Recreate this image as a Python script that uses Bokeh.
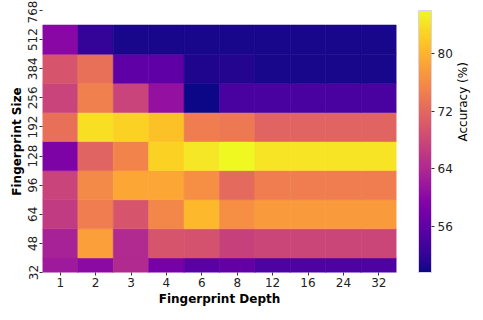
from math import pi
from bokeh.plotting import figure
from bokeh.models import (LinearColorMapper, ColorBar, FixedTicker, Range1d,
                          FactorRange, ColumnDataSource, LinearAxis)
from bokeh.palettes import Plasma256
from bokeh.transform import transform
from bokeh.embed import file_html
from bokeh.resources import INLINE

depths = ["1", "2", "3", "4", "6", "8", "12", "16", "24", "32"]
size_labels = ["32", "48", "64", "96", "128", "192", "256", "384", "512", "768"]

# accuracy (%) per fingerprint size row, columns follow `depths`
acc_32 = [62.0, 60.2, 64.2, 58.0, 55.4, 56.2, 54.3, 54.3, 54.3, 54.3]
acc_48 = [63.0, 78.0, 64.2, 69.6, 69.3, 67.2, 67.8, 67.8, 67.8, 67.8]
acc_64 = [66.3, 74.4, 69.6, 75.4, 80.5, 76.2, 77.6, 77.6, 77.6, 77.6]
acc_96 = [67.4, 75.8, 78.7, 78.7, 76.2, 72.2, 74.4, 74.4, 74.4, 74.4]
acc_128 = [58.7, 71.4, 75.1, 82.7, 84.5, 86.0, 84.2, 84.2, 84.2, 84.2]
acc_192 = [72.9, 83.8, 82.7, 81.3, 74.4, 74.0, 71.4, 71.4, 71.4, 71.4]
acc_256 = [67.4, 74.7, 67.4, 60.9, 49.6, 54.0, 54.0, 54.0, 54.0, 54.0]
acc_384 = [69.6, 72.9, 55.8, 55.8, 50.7, 51.0, 50.3, 50.3, 50.3, 50.3]
acc_512 = [59.8, 52.2, 50.3, 50.3, 50.3, 50.3, 50.3, 50.3, 50.3, 50.3]
rows = [acc_32, acc_48, acc_64, acc_96, acc_128, acc_192, acc_256, acc_384, acc_512]

cbar_low, cbar_high = 49.6, 86.0
cbar_ticks = [56, 64, 72, 80]

xs, ys, vs = [], [], []
for ri, row in enumerate(rows):
    for d, v in zip(depths, row):
        xs.append(d)
        ys.append(ri)
        vs.append(v)
src = ColumnDataSource(dict(x=xs, y=ys, v=vs))

mapper = LinearColorMapper(palette=Plasma256, low=cbar_low, high=cbar_high)

FONT = "DejaVu Sans"

p = figure(x_range=FactorRange(*depths), y_range=Range1d(0, len(size_labels) - 1),
           frame_width=354, frame_height=262,
           min_border_left=42, min_border_top=10, min_border_right=71, min_border_bottom=32,
           output_backend="svg", toolbar_location=None)

p.rect(x="x", y="y", width=1, height=1, source=src,
       fill_color=transform("v", mapper), line_color=transform("v", mapper),
       line_width=0.6)

p.grid.visible = False
p.outline_line_color = None

for ax in (p.xaxis, p.yaxis):
    ax.axis_line_color = None
    ax.major_tick_line_color = "#333333"
    ax.major_tick_out = 3
    ax.major_tick_in = 0
    ax.minor_tick_line_color = None
    ax.major_label_text_font = FONT
    ax.major_label_text_font_size = "12px"
    ax.major_label_text_color = "#222222"
    ax.axis_label_text_font = FONT
    ax.axis_label_text_font_size = "12px"
    ax.axis_label_text_font_style = "bold"
    ax.axis_label_text_color = "black"
    ax.major_label_standoff = 2
    ax.axis_label_standoff = 2

p.xaxis.axis_label = "Fingerprint Depth"
p.yaxis.axis_label = "Fingerprint Size"
p.yaxis.ticker = FixedTicker(ticks=list(range(len(size_labels))))
p.yaxis.major_label_overrides = {i: s for i, s in enumerate(size_labels)}
p.yaxis.major_label_orientation = "vertical"

cb = ColorBar(color_mapper=mapper, width=13, padding=0, margin=0,
              ticker=FixedTicker(ticks=cbar_ticks),
              major_label_text_font=FONT, major_label_text_font_size="12px",
              major_label_text_color="#222222",
              major_tick_line_color="#333333", major_tick_out=3, major_tick_in=0,
              label_standoff=3, bar_line_color="#d8d4ec", bar_line_width=1,
              location=(22, 0))
p.add_layout(cb, "right")

lab_axis = LinearAxis(ticker=FixedTicker(ticks=[]), axis_label="Accuracy (%)",
                      axis_line_color=None, major_tick_line_color=None,
                      minor_tick_line_color=None,
                      axis_label_text_font=FONT, axis_label_text_font_size="12px",
                      axis_label_text_font_style="normal", axis_label_text_color="black",
                      axis_label_standoff=7, axis_label_orientation=pi / 2)
p.add_layout(lab_axis, "right")

open("out.html", "w").write(file_html(p, INLINE))
